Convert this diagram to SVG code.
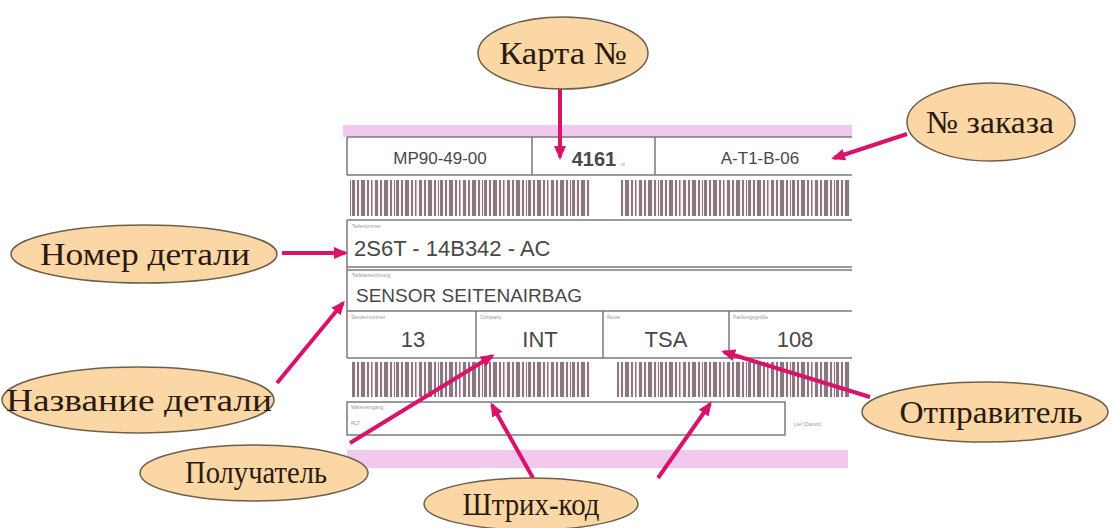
<svg xmlns="http://www.w3.org/2000/svg" width="1112" height="528" viewBox="0 0 1112 528">
<style>
.node ellipse{fill:#FAD7A4;stroke:#6E5F4C;stroke-width:1.5}
.node text{font-family:"Liberation Serif","Times New Roman",serif;font-size:32px;fill:#2A1A10;text-anchor:middle}
.conn line{stroke:#D9136A;stroke-width:4;marker-end:url(#ah)}
.ln{stroke:#7A7A7A;stroke-width:1.5;fill:none}
.val{font-family:"Liberation Sans",Arial,sans-serif;fill:#484848;text-anchor:middle}
.tiny{font-family:"Liberation Sans",Arial,sans-serif;font-size:5px;fill:#999}
.band{fill:#F3C8EE}
</style>
<defs>
<marker id="ah" markerUnits="userSpaceOnUse" markerWidth="14" markerHeight="12" refX="11" refY="6" orient="auto">
<path d="M0,0 L14,6 L0,12 z" fill="#D9136A"/>
</marker>
<pattern id="bc" patternUnits="userSpaceOnUse" width="44" height="40">
<rect width="44" height="40" fill="#FBF2F6"/>
<g fill="#8A7880">
<rect x="0" width="3" height="40"/><rect x="5" width="2" height="40"/><rect x="9" width="4" height="40"/>
<rect x="15" width="2" height="40"/><rect x="19" width="1.5" height="40"/><rect x="23" width="3" height="40"/>
<rect x="28" width="2" height="40"/><rect x="32" width="4" height="40"/><rect x="38" width="2" height="40"/><rect x="42" width="1" height="40"/>
</g>
</pattern>
</defs>
<rect width="1112" height="528" fill="#FFFFFF"/>

<g id="label">
<rect class="band" x="343" y="125" width="509" height="12"/>
<rect class="band" x="347" y="450" width="501" height="18" fill="#F6D2F1"/>
<!-- top row -->
<path class="ln" d="M347,137 H852 M347,175 H852 M347,137 V175 M532,137 V175 M655,137 V175"/>
<text class="val" x="440" y="164" font-size="17">MP90-49-00</text>
<text class="val" x="594" y="166" font-size="20" font-weight="bold">4161</text>
<text class="tiny" x="621" y="166" font-size="6">st</text>
<text class="val" x="760" y="164" font-size="17">A-T1-B-06</text>
<!-- barcode 1 -->
<rect x="350" y="180" width="240" height="36" fill="url(#bc)"/>
<rect x="620" y="180" width="230" height="36" fill="url(#bc)"/>
<!-- part rows -->
<path class="ln" d="M347,220 H852 M347,220 V358 M347,267 H852 M347,311 H852 M347,358 H852 M476,311 V358 M603,311 V358 M729,311 V358"/>
<path class="ln" d="M347,270 H852" stroke-width="1"/>
<text class="tiny" x="352" y="228">Teilenummer</text>
<text x="354" y="256" font-family="Liberation Sans, Arial, sans-serif" font-size="22" fill="#484848">2S6T - 14B342 - AC</text>
<text class="tiny" x="352" y="277">Teilebezeichnung</text>
<text x="356" y="302" font-family="Liberation Sans, Arial, sans-serif" font-size="19" fill="#484848">SENSOR SEITENAIRBAG</text>
<text class="tiny" x="351" y="319">Sendernummer</text>
<text class="tiny" x="480" y="319">Company</text>
<text class="tiny" x="607" y="319">Route</text>
<text class="tiny" x="733" y="319">Packungsgröße</text>
<text class="val" x="413" y="347" font-size="22">13</text>
<text class="val" x="540" y="347" font-size="22">INT</text>
<text class="val" x="666" y="347" font-size="22">TSA</text>
<text class="val" x="795" y="347" font-size="22">108</text>
<!-- barcode 2 -->
<rect x="352" y="362" width="238" height="35" fill="url(#bc)"/>
<rect x="617" y="362" width="233" height="35" fill="url(#bc)"/>
<!-- bottom box -->
<rect class="ln" x="347" y="402" width="438" height="33"/>
<text class="tiny" x="351" y="409">Wareneingang</text>
<text class="tiny" x="351" y="425" font-size="7">RLT</text>
<text class="tiny" x="794" y="426" font-size="6">Lief (Datum)</text>
</g>

<g class="conn" id="connectors">
<line x1="560" y1="89" x2="560" y2="157"/>
<line x1="907" y1="134" x2="834" y2="158"/>
<line x1="282" y1="253" x2="345" y2="253"/>
<line x1="277" y1="383" x2="343" y2="303"/>
<line x1="350" y1="443" x2="492" y2="356"/>
<line x1="533" y1="478" x2="492" y2="405"/>
<line x1="658" y1="478" x2="710" y2="404"/>
<line x1="870" y1="397" x2="724" y2="352"/>
</g>

<g class="node" id="n-karta"><ellipse cx="563" cy="53" rx="85" ry="36"/><text x="563" y="64" textLength="128" lengthAdjust="spacingAndGlyphs">Карта №</text></g>
<g class="node" id="n-zakaz"><ellipse cx="991" cy="122" rx="84" ry="39"/><text x="990" y="133" textLength="128" lengthAdjust="spacingAndGlyphs">№ заказа</text></g>
<g class="node" id="n-nomer"><ellipse cx="144" cy="254" rx="133" ry="29"/><text x="145" y="265" textLength="210" lengthAdjust="spacingAndGlyphs">Номер детали</text></g>
<g class="node" id="n-nazvanie"><ellipse cx="138" cy="400" rx="136" ry="33"/><text x="139" y="411" textLength="266" lengthAdjust="spacingAndGlyphs">Название детали</text></g>
<g class="node" id="n-poluchatel"><ellipse cx="254" cy="473" rx="114" ry="28"/><text x="256" y="483" font-size="29" textLength="142" lengthAdjust="spacingAndGlyphs">Получатель</text></g>
<g class="node" id="n-shtrih"><ellipse cx="531" cy="504" rx="107" ry="26"/><text x="531" y="515" font-size="30" textLength="137" lengthAdjust="spacingAndGlyphs">Штрих-код</text></g>
<g class="node" id="n-otprav"><ellipse cx="985" cy="412" rx="123" ry="30"/><text x="991" y="423" textLength="183" lengthAdjust="spacingAndGlyphs">Отправитель</text></g>
</svg>
